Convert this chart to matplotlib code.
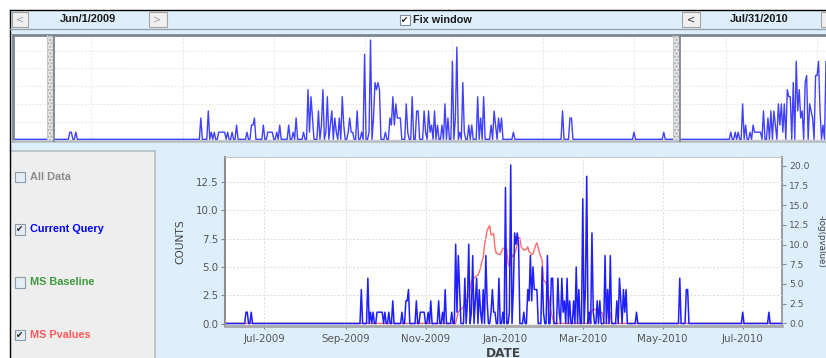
import numpy as np
import matplotlib
matplotlib.use("Agg")
import matplotlib.pyplot as plt
import matplotlib.dates as mdates
from matplotlib.patches import Rectangle
from matplotlib.ticker import MultipleLocator, FormatStrFormatter, NullFormatter
import datetime as dt

# ---------------- data ----------------
window_start = dt.date(2009, 6, 1)
window_end = dt.date(2010, 7, 31)

# Current Query: daily counts; days counted from window_start, unlisted days are 0
cq_day = [16, 17, 20, 104, 109, 111, 113, 116, 117, 118,
          119, 120, 122, 125, 128, 135, 138, 139, 140, 146,
          149, 150, 151, 152, 155, 157, 163, 166, 168, 173,
          176, 177, 178, 179, 183, 185, 186, 188, 189, 191,
          192, 194, 195, 197, 199, 200, 203, 204, 205, 206,
          209, 212, 214, 217, 218, 220, 221, 222, 223, 224,
          228, 231, 232, 233, 234, 235, 236, 237, 238, 242,
          243, 246, 249, 250, 254, 255, 257, 258, 259, 261,
          263, 266, 268, 270, 273, 275, 276, 278, 280, 281,
          284, 286, 290, 292, 294, 299, 301, 302, 304, 305,
          306, 314, 347, 352, 353, 395, 415]
cq_count = [1, 1, 1, 3, 4, 1, 1, 1, 1, 1,
            1, 1, 1, 1, 2, 1, 2, 2, 3, 2,
            1, 1, 1, 1, 1, 2, 2, 1, 3, 1,
            7, 1, 6, 3, 4, 2, 7, 1, 6, 2,
            4, 3, 1, 3, 6, 2, 1, 3, 1, 1,
            4, 1, 12, 1, 14, 3, 8, 7, 8, 7,
            1, 3, 2, 6, 2, 5, 3, 3, 3, 5,
            1, 6, 4, 4, 4, 1, 4, 1, 2, 4,
            2, 2, 5, 3, 11, 3, 13, 1, 8, 1,
            2, 2, 6, 3, 6, 2, 4, 2, 3, 1,
            3, 1, 4, 3, 3, 1, 1]

# MS Pvalues: -log(pvalue) readings (days from window_start)
pv_day = [0, 176, 178, 181, 183, 186, 188, 191, 193, 195, 196,
          197, 198, 200, 202, 203, 205, 206, 207, 210, 212,
          214, 215, 216, 217, 219, 220, 222, 224, 225, 226,
          228, 230, 231, 232, 234, 235, 237, 238, 239, 240,
          242, 243, 245, 247, 248, 250, 251,
          278, 280, 282, 284, 286, 288, 289,
          293, 294, 295, 425]
pv_val = [0, 0, 1.5, 1.9, 2.3, 3.6, 5.3, 5.9, 6.1, 7.0, 7.9,
          8.3, 9.9, 11.8, 12.4, 11.2, 11.4, 9.5, 8.9, 8.7, 9.5,
          9.6, 9.3, 7.6, 7.2, 8.7, 8.4, 9.3, 10.9, 10.8, 9.7,
          9.3, 9.4, 9.7, 9.1, 8.7, 8.8, 9.9, 10.2, 9.6, 8.9,
          8.0, 5.5, 5.1, 3.4, 2.1, 0.6, 0,
          0, 1.7, 1.8, 1.5, 1.5, 1.3, 0,
          0, 1.4, 0, 0]

# overview strip: Current Query counts after the window (days from window_start)
ov_day = [460, 463, 465, 468, 470, 473, 475, 476, 477, 478,
          479, 480, 482, 485, 487, 489, 490, 492, 493, 494,
          495, 496, 498, 499, 500, 502, 504, 505, 506, 507,
          508, 510, 511, 513, 514, 515, 517, 518, 519, 520,
          522, 524]
ov_count = [1, 1, 1, 5, 2, 1, 2, 1, 1, 1,
            1, 1, 4, 3, 4, 4, 2, 5, 2, 5,
            1, 5, 7, 6, 6, 8, 11, 4, 7, 3,
            4, 8, 9, 5, 4, 3, 9, 9, 11, 4,
            2, 11]
ov_first_day, ov_last_day = -23, 526

series_labels = ["All Data", "Current Query", "MS Baseline", "MS Pvalues"]
series_colors = ["#8C8C8C", "#0000FF", "#3C9A3C", "#FF5A5A"]
series_checked = [False, True, False, True]

# ---------------- figure ----------------
W, H = 826, 358
fig = plt.figure(figsize=(W / 100, H / 100), dpi=100)
fig.patch.set_facecolor("white")


def frac(x0, y0, x1, y1):
    return [x0 / W, 1 - y1 / H, (x1 - x0) / W, (y1 - y0) / H]


BG = "#DEEFFC"
UI_FONT = "Liberation Sans"

# chrome (pixel coordinates)
bg = fig.add_axes([0, 0, 1, 1])
bg.set_xlim(0, W)
bg.set_ylim(H, 0)
bg.axis("off")
bg.add_patch(Rectangle((10, 10), W - 10, H - 10, fc=BG, ec="none"))
bg.add_patch(Rectangle((10, 150.5), 145, H - 150.5, fc="#EEEEEE", ec="none"))
bg.plot([10, 155], [150.5, 150.5], color="#B5BDC5", lw=1.2)
bg.plot([155, 155], [150.5, H], color="#B5BDC5", lw=1.2)
bg.plot([9.5, 9.5], [9.5, H], color="black", lw=1.0)
bg.plot([9.5, W], [9.5, 9.5], color="black", lw=1.0)
bg.plot([10, W], [28.5, 28.5], color="#97A1AB", lw=1.0)


def button(x, w, sym, col):
    bg.add_patch(Rectangle((x, 12), w, 15, fc="#EFEFEF", ec="#A3A3A3", lw=0.8))
    if sym:
        bg.text(x + w / 2, 19.5, sym, ha="center", va="center", fontsize=7,
                color=col, family="DejaVu Sans")


def checkbox(x, y, checked, s=10.5):
    bg.add_patch(Rectangle((x, y - s / 2), s, s, fc="#E4ECF4", ec="#8D9BA9", lw=0.8))
    if checked:
        bg.text(x + s / 2, y + 0.3, "\u2714", ha="center", va="center",
                fontsize=6.3, color="#222222", family="DejaVu Sans")


def fmt_date(d):
    return f"{d:%b}/{d.day}/{d.year}"


button(12, 16, "<", "#A0A0A0")
button(148.5, 18, ">", "#A0A0A0")
button(682, 17.5, "<", "#333333")
button(821, 14, "", "#333333")
bg.text(88, 19.5, fmt_date(window_start), ha="center", va="center",
        fontsize=7.9, fontweight="bold", family=UI_FONT, color="#1A1A1A")
bg.text(759.5, 19.5, fmt_date(window_end), ha="center", va="center",
        fontsize=7.9, fontweight="bold", family=UI_FONT, color="#1A1A1A")
bg.add_patch(Rectangle((400, 15), 10, 10, fc="white", ec="#7F8F9F", lw=0.8))
bg.text(405, 20.3, "\u2714", ha="center", va="center", fontsize=6.3,
        color="#222222", family="DejaVu Sans")
bg.text(413, 20, "Fix window", ha="left", va="center", fontsize=7.8,
        fontweight="bold", family=UI_FONT, color="#1A1A1A")

for lab, col, chk, yc in zip(series_labels, series_colors, series_checked,
                             [177, 229.5, 282.3, 335]):
    checkbox(14.5, yc, chk)
    bg.text(30, yc, lab, ha="left", va="center", fontsize=7.8,
            fontweight="bold", family=UI_FONT, color=col)

# ---------------- overview strip ----------------
base = mdates.date2num(window_start)
od = np.arange(ov_first_day, ov_last_day + 1)
ovals = np.zeros(len(od))
ovals[np.array(cq_day) - ov_first_day] = cq_count
ovals[np.array(ov_day) - ov_first_day] = ov_count

ov = fig.add_axes(frac(13, 35, 826, 141))
ov.set_facecolor("white")
ov.plot(base + od, ovals, color="#4040FF", lw=1.0)
ov.set_xlim(base - 22.2, base + 524.0)
ov.set_ylim(-0.24, 14.71)
ov.xaxis.set_major_locator(mdates.MonthLocator(bymonth=[1, 3, 5, 7, 9, 11]))
ov.yaxis.set_major_locator(MultipleLocator(2.5))
ov.xaxis.set_major_formatter(NullFormatter())
ov.yaxis.set_major_formatter(NullFormatter())
ov.tick_params(length=0)
ov.grid(True, color="#E2E2E2", ls=(0, (2.5, 2)), lw=0.6)
ov.set_axisbelow(True)
for s in ["left", "top"]:
    ov.spines[s].set_color("#7D8791")
    ov.spines[s].set_linewidth(2.0)
ov.spines["bottom"].set_color("#B5BBC1")
ov.spines["bottom"].set_linewidth(1.8)
ov.spines["right"].set_visible(False)

# ---------------- main chart ----------------
d = np.arange(0, (window_end - window_start).days + 1)
v = np.zeros(len(d))
v[np.array(cq_day)] = cq_count

ax = fig.add_axes(frac(225, 157.5, 782, 326))
ax2 = ax.twinx()
ax.set_zorder(ax2.get_zorder() + 1)
ax.patch.set_visible(False)
ax2.patch.set_visible(True)
ax2.patch.set_facecolor("white")

ax2.plot(base + np.array(pv_day), pv_val, color="#FF6A6A", lw=1.0)
ax.plot(base + d, v, color="#1E1EFF", lw=1.1)

ax.set_xlim(mdates.date2num(window_start), mdates.date2num(window_end))
ax.set_ylim(-0.22, 14.66)
ax2.set_ylim(-0.34, 21.04)

ax.xaxis.set_major_locator(mdates.MonthLocator(bymonth=[1, 3, 5, 7, 9, 11]))
ax.xaxis.set_major_formatter(mdates.DateFormatter("%b-%Y"))
ax.yaxis.set_major_locator(MultipleLocator(2.5))
ax.yaxis.set_major_formatter(FormatStrFormatter("%.1f"))
ax2.yaxis.set_major_locator(MultipleLocator(2.5))
ax2.yaxis.set_major_formatter(FormatStrFormatter("%.1f"))

ax.grid(True, color="#D9D9D9", ls=(0, (2.5, 2)), lw=0.6)
ax.set_axisbelow(True)

ax.spines["left"].set_color("#8C8C8C")
ax.spines["left"].set_linewidth(1.5)
ax.spines["bottom"].set_color("#A8A8A8")
ax.spines["bottom"].set_linewidth(2.0)
ax.spines["top"].set_color("#C8C8C8")
ax.spines["top"].set_linewidth(0.8)
ax.spines["right"].set_visible(False)
for s in ["left", "top", "bottom"]:
    ax2.spines[s].set_visible(False)
ax2.spines["right"].set_color("#A0A0A0")
ax2.spines["right"].set_linewidth(1.5)

ax.tick_params(axis="y", direction="out", length=3, width=0.8, color="#888888",
               labelsize=7.4, labelcolor="#555555", pad=1.5)
ax.tick_params(axis="x", direction="out", length=2.5, width=0.8, color="#888888",
               labelsize=7.4, labelcolor="#555555", pad=3)
ax2.tick_params(axis="y", direction="out", length=3, width=0.8, color="#888888",
                labelsize=6.6, labelcolor="#555555", pad=2)

ax.set_ylabel("COUNTS", fontsize=7.7, color="#444444")
ax.yaxis.set_label_coords(-0.0706, 0.5)
ax.set_xlabel("DATE", fontsize=8.7, fontweight="bold", color="#444444")
ax.xaxis.set_label_coords(0.5, -0.1217)
ax2.set_ylabel("-log(pvalue)", rotation=270, va="bottom", fontsize=6.3,
               color="#444444")
ax2.yaxis.set_label_coords(1.062, 0.5)

# ---------------- overlay chrome (window handles) ----------------
fg = fig.add_axes([0, 0, 1, 1])
fg.set_xlim(0, W)
fg.set_ylim(H, 0)
fg.axis("off")
fg.patch.set_visible(False)
for hx, hw in [(47, 6.5), (673, 7)]:
    fg.add_patch(Rectangle((hx, 36), hw, 104, fc="#E6E6E6", ec="#A8A8A8",
                           hatch=".....", lw=0))
    fg.plot([hx + hw, hx + hw], [35, 141], color="#7D8791", lw=1.3)
    fg.plot([hx, hx], [35, 141], color="#C4C8CC", lw=0.8)

fig.savefig("out.png", dpi=100, facecolor=fig.get_facecolor())
